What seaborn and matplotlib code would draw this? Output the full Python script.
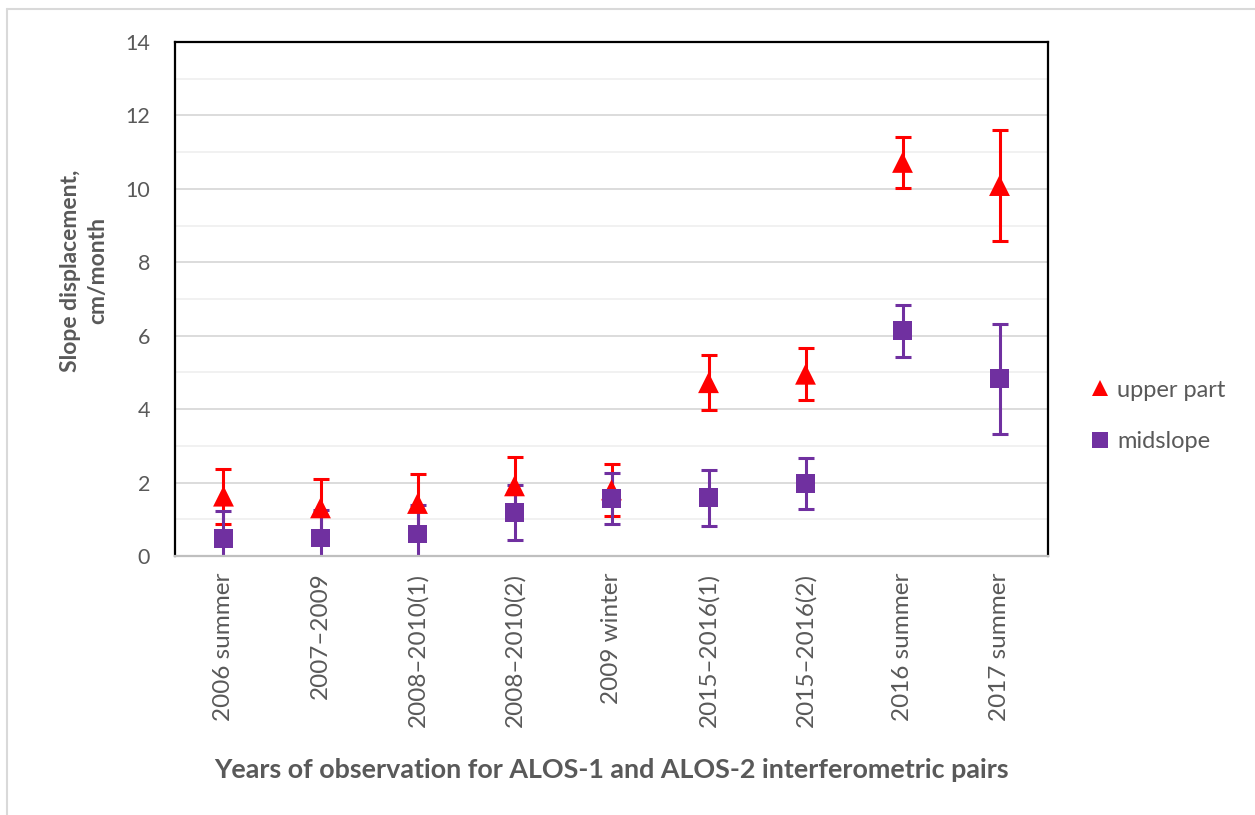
import numpy as np
import pandas as pd
import matplotlib
matplotlib.use("Agg")
import matplotlib.pyplot as plt
from matplotlib.lines import Line2D
from matplotlib.ticker import MultipleLocator
import seaborn as sns

# Observation periods (ALOS-1 / ALOS-2 interferometric pairs)
periods = ["2006 summer", "2007–2009", "2008–2010(1)", "2008–2010(2)",
           "2009 winter", "2015–2016(1)", "2015–2016(2)", "2016 summer",
           "2017 summer"]

# Slope displacement, cm/month, with error half-widths
upper_part = [1.63, 1.31, 1.43, 1.91, 1.80, 4.72, 4.95, 10.72, 10.09]
upper_part_err = [0.75, 0.78, 0.80, 0.79, 0.70, 0.75, 0.71, 0.70, 1.50]
midslope = [0.48, 0.49, 0.60, 1.19, 1.57, 1.59, 1.98, 6.14, 4.83]
midslope_err = [0.75, 0.75, 0.78, 0.75, 0.70, 0.76, 0.70, 0.71, 1.50]

series_names = ["upper part", "midslope"]
colors = {"upper part": "#FF0000", "midslope": "#7030A0"}
markers = {"upper part": "^", "midslope": "s"}
marker_area = {"upper part": 225, "midslope": 185}

df = pd.concat([
    pd.DataFrame({"period": periods, "series": "upper part",
                  "value": upper_part, "err": upper_part_err}),
    pd.DataFrame({"period": periods, "series": "midslope",
                  "value": midslope, "err": midslope_err}),
], ignore_index=True)

sns.set_theme(style="white")
plt.rcParams["font.family"] = ["Lato", "DejaVu Sans"]
text_grey = "#595959"

fig = plt.figure(figsize=(12.55, 8.15), dpi=100)
ax = fig.add_axes([175 / 1255, 1 - 556 / 815, 873 / 1255, 514 / 815])

# error bars beneath the markers
xpos = {p: i for i, p in enumerate(periods)}
for name in series_names:
    sub = df[df["series"] == name]
    ax.errorbar(sub["period"].map(xpos), sub["value"], yerr=sub["err"],
                fmt="none", ecolor=colors[name], elinewidth=2.2,
                capsize=5.8, capthick=2.2, zorder=2)

sns.scatterplot(data=df, x="period", y="value", hue="series", style="series",
                size="series", sizes=marker_area,
                palette=colors, markers=markers, linewidth=0,
                ax=ax, zorder=4, legend=False)

ax.set_xlim(-0.5, len(periods) - 0.5)
ax.set_ylim(0, 14)
ax.set_xticks(range(len(periods)))
ax.set_xticklabels(periods, rotation=90, fontsize=17.5, color=text_grey)
ax.yaxis.set_major_locator(MultipleLocator(2))
ax.yaxis.set_minor_locator(MultipleLocator(1))
ax.tick_params(axis="y", which="major", labelsize=15.5, labelcolor=text_grey,
               length=0, pad=18)
ax.tick_params(axis="y", which="minor", length=0)
ax.tick_params(axis="x", length=0, pad=12)

ax.grid(True, axis="y", which="major", color="#D9D9D9", linewidth=1.3, zorder=0)
ax.grid(True, axis="y", which="minor", color="#F0F0F0", linewidth=1.3, zorder=0)
ax.set_axisbelow(True)

for side in ["left", "top", "right"]:
    ax.spines[side].set_color("black")
    ax.spines[side].set_linewidth(1.6)
ax.spines["bottom"].set_color("#BFBFBF")
ax.spines["bottom"].set_linewidth(1.6)

ax.set_xlabel("Years of observation for ALOS-1 and ALOS-2 interferometric pairs",
              fontsize=19.4, fontweight="bold", color=text_grey)
ax.xaxis.set_label_coords(0.5, -0.393)
ax.set_ylabel("Slope displacement,\ncm/month", fontsize=16.5,
              fontweight="bold", color=text_grey, linespacing=1.35)
ax.yaxis.set_label_coords(-0.077, 0.555)

handles = [Line2D([], [], linestyle="none", marker=markers[n], color=colors[n],
                  markersize=12, markeredgewidth=0) for n in series_names]
fig.legend(handles, series_names, loc="center left",
           bbox_to_anchor=(1069 / 1255, 1 - 416 / 815), frameon=False,
           fontsize=17, labelcolor=text_grey, handlelength=0.8,
           handletextpad=0.35, labelspacing=1.3)

# light frame around the chart area
fig.add_artist(Line2D([7 / 1255, 1], [1 - 9 / 815, 1 - 9 / 815],
                      color="#D9D9D9", linewidth=1.5))
fig.add_artist(Line2D([7 / 1255, 7 / 1255], [0, 1 - 9 / 815],
                      color="#D9D9D9", linewidth=1.5))

fig.savefig("out.png", dpi=100, facecolor="white")
